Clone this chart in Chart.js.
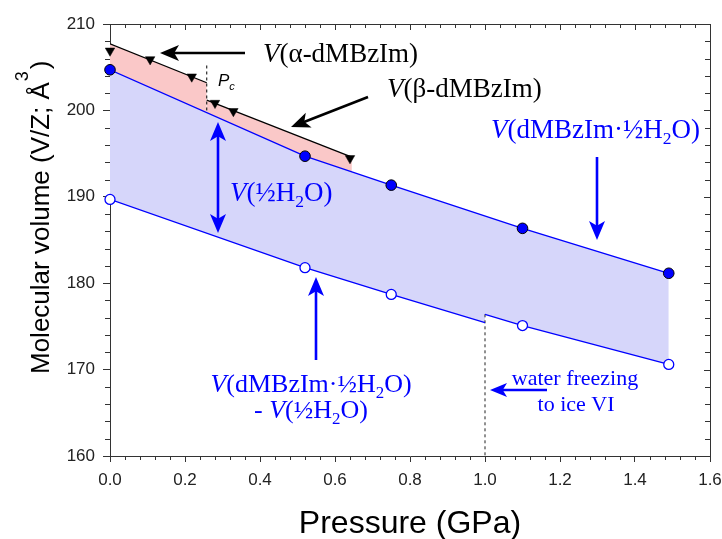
<!DOCTYPE html>
<html>
<head>
<meta charset="utf-8">
<script src="https://cdn.jsdelivr.net/npm/chart.js@4.4.1/dist/chart.umd.min.js"></script>
<style>
  html, body { margin: 0; padding: 0; background: #fff; }
  #wrap { width: 722px; height: 539px; }
</style>
</head>
<body>
<div id="wrap"><canvas id="chart" width="722" height="539"></canvas></div>
<script>
// tick labels
const xTicks = [0, 0.2, 0.4, 0.6, 0.8, 1.0, 1.2, 1.4, 1.6];
const yTicks = [160, 170, 180, 190, 200, 210];

// dMBzIm·½H2O (filled circles) and hydrate minus water (open circles)
const pHydrate = [0, 0.52, 0.75, 1.10, 1.49];
const vHydrate = [204.7, 194.7, 191.35, 186.35, 181.15];
const vHost = [189.7, 181.8, 178.7, 175.1, 170.6];

// lower line, broken at 1 GPa where water freezes to ice VI
const pHostLine = [0, 0.52, 0.75, 1.0, 1.0, 1.10, 1.49];
const vHostLine = [189.7, 181.8, 178.7, 175.45, 176.4, 175.1, 170.6];

// anhydrous dMBzIm (triangles) and the alpha / beta lines
const pMol = [0, 0.107, 0.218, 0.28, 0.329, 0.64];
const vMol = [206.9, 205.9, 203.9, 200.85, 199.9, 194.45];
const pMolLine = [0, 0.258, 0.258, 0.645];
const vMolLine = [207.7, 203.2, 201.2, 194.6];

// guide lines: Pc and water freezing
const pPc = [0.258, 0.258];
const vPc = [205.2, 199.65];
const pFreeze = [1.0, 1.0];
const vFreeze = [176.4, 160];

const BLUE = '#0000ff';
const AXIS = '#333';
const SANS = '"Liberation Sans", Arial, sans-serif';
const SERIF = '"Liberation Serif", "Times New Roman", serif';

const pts = (xs, ys) => xs.map((x, i) => ({ x: x, y: ys[i] }));
// hide the vertical joins of the broken lines
const stepHidden = c => c.p0.parsed.x === c.p1.parsed.x ? 'rgba(0,0,0,0)' : undefined;

// rich text: parts = [[text, style]], style has 'i' italic, 's' subscript
function partFont(style, size, family) {
  const sz = style.includes('s') ? size * 0.65 : size;
  return (style.includes('i') ? 'italic ' : '') + sz + 'px ' + family;
}
function richWidth(ctx, parts, size, family) {
  let w = 0;
  parts.forEach(p => { ctx.font = partFont(p[1], size, family); w += ctx.measureText(p[0]).width; });
  return w;
}
function drawRich(ctx, parts, x, y, size, color, family, center) {
  ctx.fillStyle = color;
  ctx.textBaseline = 'alphabetic';
  ctx.textAlign = 'left';
  let cx = center ? x - richWidth(ctx, parts, size, family) / 2 : x;
  parts.forEach(p => {
    ctx.font = partFont(p[1], size, family);
    const dy = p[1].includes('s') ? size * 0.22 : 0;
    ctx.fillText(p[0], cx, y + dy);
    cx += ctx.measureText(p[0]).width;
  });
}

function arrowHead(ctx, x1, y1, x2, y2, len, half) {
  const a = Math.atan2(y2 - y1, x2 - x1);
  const c = Math.cos(a), s = Math.sin(a);
  ctx.beginPath();
  ctx.moveTo(x2, y2);
  ctx.lineTo(x2 - c * len + s * half, y2 - s * len - c * half);
  ctx.lineTo(x2 - c * len * 0.75, y2 - s * len * 0.75);
  ctx.lineTo(x2 - c * len - s * half, y2 - s * len + c * half);
  ctx.closePath();
  ctx.fill();
}
function arrow(ctx, x1, y1, x2, y2, color, both, len, half) {
  len = len || 19; half = half || 8;
  const a = Math.atan2(y2 - y1, x2 - x1);
  const c = Math.cos(a), s = Math.sin(a);
  ctx.strokeStyle = color; ctx.fillStyle = color; ctx.lineWidth = 2.6;
  ctx.beginPath();
  ctx.moveTo(both ? x1 + c * len * 0.7 : x1, both ? y1 + s * len * 0.7 : y1);
  ctx.lineTo(x2 - c * len * 0.7, y2 - s * len * 0.7);
  ctx.stroke();
  arrowHead(ctx, x1, y1, x2, y2, len, half);
  if (both) arrowHead(ctx, x2, y2, x1, y1, len, half);
}

const notes = [
  { parts: [['V', 'i'], ['(α-dMBzIm)', '']], x: 263, y: 62, size: 27, color: '#000' },
  { parts: [['V', 'i'], ['(β-dMBzIm)', '']], x: 387, y: 97, size: 27, color: '#000' },
  { parts: [['V', 'i'], ['(dMBzIm·½H', ''], ['2', 's'], ['O)', '']], x: 491, y: 138, size: 27, color: BLUE },
  { parts: [['V', 'i'], ['(½H', ''], ['2', 's'], ['O)', '']], x: 230, y: 201, size: 27, color: BLUE },
  { parts: [['V', 'i'], ['(dMBzIm·½H', ''], ['2', 's'], ['O)', '']], x: 311, y: 392, size: 26, color: BLUE, center: true },
  { parts: [['- ', ''], ['V', 'i'], ['(½H', ''], ['2', 's'], ['O)', '']], x: 311, y: 418, size: 26, color: BLUE, center: true },
  { parts: [['water freezing', '']], x: 575, y: 385, size: 22, color: BLUE, center: true },
  { parts: [['to ice VI', '']], x: 576, y: 411, size: 22, color: BLUE, center: true }
];

const annotations = {
  id: 'annotations',
  afterDraw(chart) {
    const { ctx, chartArea: a, scales: { x, y } } = chart;
    ctx.save();
    // frame top/right and minor ticks
    ctx.strokeStyle = AXIS; ctx.lineWidth = 1;
    ctx.beginPath();
    ctx.moveTo(a.left, a.top + 0.5); ctx.lineTo(a.right + 0.5, a.top + 0.5); ctx.lineTo(a.right + 0.5, a.bottom);
    for (let k = 0; k <= 40; k++) {
      const px = Math.round(x.getPixelForValue(k * 0.04)) + 0.5;
      const major = k % 5 === 0;
      if (!major) { ctx.moveTo(px, a.bottom); ctx.lineTo(px, a.bottom + 4); }
      ctx.moveTo(px, a.top); ctx.lineTo(px, a.top + (major ? 6 : 4));
    }
    for (let v = 160; v <= 210; v += 2) {
      const py = Math.round(y.getPixelForValue(v)) + 0.5;
      const major = v % 10 === 0;
      if (!major) { ctx.moveTo(a.left, py); ctx.lineTo(a.left - 5, py); }
      ctx.moveTo(a.right, py); ctx.lineTo(a.right - (major ? 6 : 5), py);
    }
    ctx.stroke();

    // arrows
    arrow(ctx, 245, 53, 160, 53, '#000');
    arrow(ctx, 368, 97, 291, 127, '#000');
    arrow(ctx, 597, 157, 597, 240, BLUE);
    arrow(ctx, 218, 122, 218, 233, BLUE, true);
    arrow(ctx, 316, 360, 316, 277, BLUE);
    arrow(ctx, 547, 390, 490, 390, BLUE, false, 17, 7);

    notes.forEach(n => drawRich(ctx, n.parts, n.x, n.y, n.size, n.color, SERIF, n.center));
    drawRich(ctx, [['P', 'i'], ['c', 'is']], 218, 86, 17, '#000', SANS, false);

    // axis titles
    ctx.fillStyle = '#000';
    ctx.font = '32px ' + SANS;
    ctx.textAlign = 'center';
    ctx.fillText('Pressure (GPa)', (a.left + a.right) / 2, 533);

    ctx.translate(49, 374);
    ctx.rotate(-Math.PI / 2);
    ctx.textAlign = 'left';
    ctx.font = '26px ' + SANS;
    const main = 'Molecular volume (V/Z; Å';
    const w = ctx.measureText(main).width;
    ctx.fillText(main, 0, 0);
    ctx.font = '18px ' + SANS;
    ctx.fillText('3', w + 1, -21);
    ctx.font = '26px ' + SANS;
    ctx.fillText(')', w + 13, 0);
    ctx.restore();
  }
};

new Chart(document.getElementById('chart'), {
  type: 'line',
  data: {
    datasets: [
      { data: pts(pHydrate, vHost), showLine: false, pointRadius: 5, pointBackgroundColor: '#fff',
        pointBorderColor: BLUE, pointBorderWidth: 1.3, clip: false },
      { data: pts(pHydrate, vHydrate), showLine: false, pointRadius: 5.3, pointBackgroundColor: BLUE,
        pointBorderColor: '#000', pointBorderWidth: 1, clip: false },
      { data: pts(pMol, vMol), showLine: false, pointStyle: 'triangle', pointRotation: 180, pointRadius: 5.5,
        pointBackgroundColor: '#000', pointBorderColor: '#000', pointBorderWidth: 0.5, clip: false },
      { data: pts(pHostLine, vHostLine), borderColor: BLUE, borderWidth: 1.3, pointRadius: 0, fill: false,
        segment: { borderColor: stepHidden } },
      { data: pts(pHydrate, vHydrate), borderColor: BLUE, borderWidth: 1.3, pointRadius: 0,
        fill: { target: 3 }, backgroundColor: 'rgb(214,214,250)' },
      { data: pts(pMolLine, vMolLine), borderColor: '#000', borderWidth: 1.3, pointRadius: 0,
        fill: { target: 4 }, backgroundColor: 'rgb(250,200,200)', segment: { borderColor: stepHidden } },
      { data: pts(pPc, vPc), borderColor: '#000', borderWidth: 1, borderDash: [3, 3], pointRadius: 0 },
      { data: pts(pFreeze, vFreeze), borderColor: '#222', borderWidth: 1, borderDash: [3, 3], pointRadius: 0 }
    ]
  },
  options: {
    responsive: false,
    animation: false,
    layout: { padding: { left: 0, top: 24, right: 12, bottom: 0 } },
    elements: { line: { tension: 0 } },
    plugins: {
      legend: { display: false },
      tooltip: { enabled: false },
      filler: { drawTime: 'beforeDatasetsDraw' }
    },
    scales: {
      x: {
        type: 'linear', min: 0, max: 1.6,
        afterBuildTicks: s => { s.ticks = xTicks.map(v => ({ value: v })); },
        afterFit: s => { s.height = 83; s.paddingLeft = 0; s.paddingRight = 0; },
        grid: { drawOnChartArea: false, drawTicks: true, tickLength: 6, color: AXIS },
        border: { display: true, color: AXIS, width: 1 },
        ticks: { padding: 8, color: '#222', font: { family: SANS, size: 17 }, maxRotation: 0,
          callback: v => Number(v).toFixed(1) }
      },
      y: {
        type: 'linear', min: 160, max: 210,
        afterBuildTicks: s => { s.ticks = yTicks.map(v => ({ value: v })); },
        afterFit: s => { s.width = 110; s.paddingTop = 0; s.paddingBottom = 0; },
        grid: { drawOnChartArea: false, drawTicks: true, tickLength: 7, color: AXIS },
        border: { display: true, color: AXIS, width: 1 },
        ticks: { padding: 8, color: '#222', font: { family: SANS, size: 17 }, callback: v => String(v) }
      }
    }
  },
  plugins: [annotations]
});
</script>
</body>
</html>
